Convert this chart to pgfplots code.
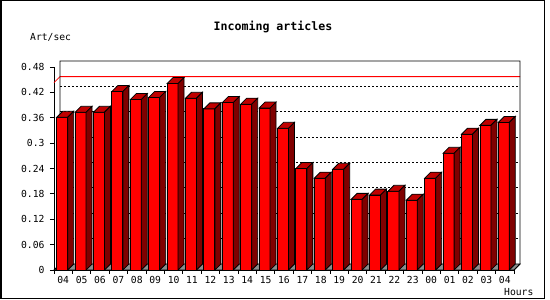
\documentclass[border=0pt]{standalone}
\usepackage{pgfplots}
\pgfplotsset{compat=1.18}
\usepackage{pgfplotstable}
\usepackage{fontspec}
\setmainfont{DejaVu Sans Mono}
\definecolor{topred}{RGB}{192,0,0}
\definecolor{sidered}{RGB}{128,0,0}
\definecolor{floorgray}{RGB}{140,140,140}

\pgfplotstableread{
i v
0 0.361
1 0.373
2 0.373
3 0.422
4 0.403
5 0.408
6 0.441
7 0.406
8 0.381
9 0.396
10 0.392
11 0.383
12 0.335
13 0.240
14 0.217
15 0.238
16 0.167
17 0.177
18 0.186
19 0.165
20 0.217
21 0.276
22 0.321
23 0.342
24 0.349
}\data

\pgfdeclareplotmark{bar3d}{%
  \pgfmathsetmacro\hh{\val*203/0.48}%
  \pgfsetlinewidth{0.8pt}%
  \pgfsetstrokecolor{black}%
  \pgfsetfillcolor{topred}%
  \pgfpathmoveto{\pgfqpoint{-6.5pt}{0pt}}%
  \pgfpathlineto{\pgfqpoint{4.5pt}{0pt}}%
  \pgfpathlineto{\pgfqpoint{10.5pt}{6pt}}%
  \pgfpathlineto{\pgfqpoint{-0.5pt}{6pt}}%
  \pgfpathclose
  \pgfusepathqfillstroke
  \pgfsetfillcolor{sidered}%
  \pgfpathmoveto{\pgfqpoint{4.5pt}{0pt}}%
  \pgfpathlineto{\pgfqpoint{10.5pt}{6pt}}%
  \pgfpathlineto{\pgfpoint{10.5pt}{6pt-\hh pt}}%
  \pgfpathlineto{\pgfpoint{4.5pt}{-\hh pt}}%
  \pgfpathclose
  \pgfusepathqfillstroke
}

\begin{document}
\begin{tikzpicture}
\path[use as bounding box] (0pt,0pt) rectangle (550pt,300pt);
\draw[line width=1.5pt] (0.75pt,1.5pt) rectangle (544.5pt,299.25pt);
\node[anchor=base, font=\fontsize{11.6}{13}\selectfont\bfseries] at (273pt,269pt) {Incoming articles};
\node[anchor=base west, inner sep=0pt, font=\fontsize{9.7}{11}\selectfont] at (30pt,259.5pt) {Art/sec};
\node[anchor=base west, inner sep=0pt, font=\fontsize{9.7}{11}\selectfont] at (504pt,4pt) {Hours};
\begin{axis}[
  at={(54pt,30pt)}, anchor=south west,
  scale only axis, width=460pt, height=203pt,
  xmin=-0.5, xmax=24.5, ymin=0, ymax=0.48,
  clip=false,
  axis lines=left,
  axis line style={-, line width=0.8pt},
  tick align=outside,
  major tick length=4pt,
  tick style={black, line width=0.8pt},
  xtick={-0.5,0.5,1.5,2.5,3.5,4.5,5.5,6.5,7.5,8.5,9.5,10.5,11.5,12.5,13.5,14.5,15.5,16.5,17.5,18.5,19.5,20.5,21.5,22.5,23.5,24.5},
  xticklabels={},
  extra x ticks={0,1,2,3,4,5,6,7,8,9,10,11,12,13,14,15,16,17,18,19,20,21,22,23,24},
  extra x tick labels={04,05,06,07,08,09,10,11,12,13,14,15,16,17,18,19,20,21,22,23,00,01,02,03,04},
  extra x tick style={major tick length=0pt, xticklabel style={yshift=-3pt}},
  ytick={0,0.06,0.12,0.18,0.24,0.3,0.36,0.42,0.48},
  yticklabels={0,0.06,0.12,0.18,0.24,0.3,0.36,0.42,0.48},
  ticklabel style={font=\fontsize{9.7}{11}\selectfont},
  yticklabel style={xshift=-2pt},
]
% back wall grid lines
\pgfplotsinvokeforeach{0.06,0.12,0.18,0.24,0.3,0.36,0.42}{
  \draw[dash pattern=on 2pt off 2pt, line width=0.8pt]
    ([shift={(6pt,6pt)}]axis cs:-0.5,#1) -- ([shift={(6pt,6pt)}]axis cs:24.5,#1);
}
% maximum line
\draw[red, line width=0.8pt] (axis cs:-0.5,0.443) -- ([shift={(6pt,6pt)}]axis cs:-0.5,0.443) -- ([shift={(6pt,6pt)}]axis cs:24.5,0.443);
% back wall frame
\draw[line width=0.8pt] ([shift={(6pt,6pt)}]axis cs:-0.5,0) -- ([shift={(6pt,6pt)}]axis cs:-0.5,0.48)
  -- ([shift={(6pt,6pt)}]axis cs:24.5,0.48) -- ([shift={(6pt,6pt)}]axis cs:24.5,0) -- (axis cs:24.5,0);
% floor
\filldraw[fill=floorgray, draw=black, line width=0.8pt] (axis cs:-0.5,0) -- (axis cs:24.5,0)
  -- ([shift={(6pt,6pt)}]axis cs:24.5,0) -- ([shift={(6pt,6pt)}]axis cs:-0.5,0) -- cycle;
% bars: front faces
\addplot[ybar, bar width=11pt, bar shift=-1pt, fill=red, draw=black, line width=0.8pt] table[x=i, y=v] {\data};
% bars: top and side faces
\addplot[only marks, mark=bar3d, visualization depends on={\thisrow{v} \as \val}] table[x=i, y=v] {\data};
\end{axis}
\end{tikzpicture}
\end{document}
